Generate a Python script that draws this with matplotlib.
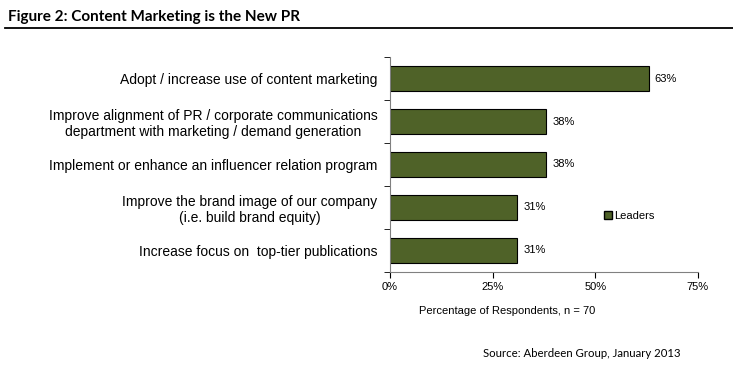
import numpy as np
import matplotlib
matplotlib.use("Agg")
import matplotlib.pyplot as plt
from matplotlib.lines import Line2D
from matplotlib.patches import Patch

# data
labels = ["Adopt / increase use of content marketing",
          "Improve alignment of PR / corporate communications\ndepartment with marketing / demand generation",
          "Implement or enhance an influencer relation program",
          "Improve the brand image of our company\n(i.e. build brand equity)",
          "Increase focus on  top-tier publications"]
leaders = [63, 38, 38, 31, 31]
xticks = [0, 25, 50, 75]

plt.rcParams['font.family'] = ['Liberation Sans', 'DejaVu Sans']

fig = plt.figure(figsize=(7.33, 3.68), dpi=100)
ax = fig.add_axes([0.532, 0.261, 0.42, 0.584])

y = np.arange(len(labels))
ax.barh(y, leaders, height=0.58, color='#4F6228', edgecolor='black', lw=0.8)
for yi, v in zip(y, leaders):
    ax.text(v + 1.5, yi, "%d%%" % v, va='center', ha='left', fontsize=8)

ax.set_ylim(len(labels) - 0.5, -0.5)
ax.set_xlim(0, 75)
ax.set_yticks(y)
ax.set_yticklabels(labels, fontsize=10, ha='right', multialignment='center')
ax.tick_params(axis='y', length=0, pad=9)
# boundary ticks on the y axis
ax.set_yticks(np.arange(-0.5, len(labels), 1.0), minor=True)
ax.tick_params(axis='y', which='minor', length=4, direction='out')
ax.set_xticks(xticks)
ax.set_xticklabels(["%d%%" % t for t in xticks], fontsize=8)
ax.tick_params(axis='x', length=4, direction='out', pad=3)
for s in ['top', 'right']:
    ax.spines[s].set_visible(False)
ax.spines['left'].set_color('#808080')
ax.spines['bottom'].set_color('#808080')

fig.text(0.692, 0.155, "Percentage of Respondents, n = 70", fontsize=8, ha='center', va='center')

fig.legend([Patch(facecolor='#4F6228', edgecolor='black')], ['Leaders'],
           loc='center left', bbox_to_anchor=(0.824, 0.413), frameon=False,
           fontsize=8, handlelength=0.7, handleheight=0.7, handletextpad=0.2,
           borderaxespad=0, borderpad=0)

fig.text(0.011, 0.955, "Figure 2: Content Marketing is the New PR", fontsize=11,
         fontweight='bold', family='Lato', ha='left', va='center')
fig.add_artist(Line2D([0.007, 1.0], [0.925, 0.925], color='black', lw=1.3))
fig.text(0.929, 0.04, "Source: Aberdeen Group, January 2013", fontsize=8.2,
         family='Lato', ha='right', va='center')

fig.savefig("out.png", dpi=100)
